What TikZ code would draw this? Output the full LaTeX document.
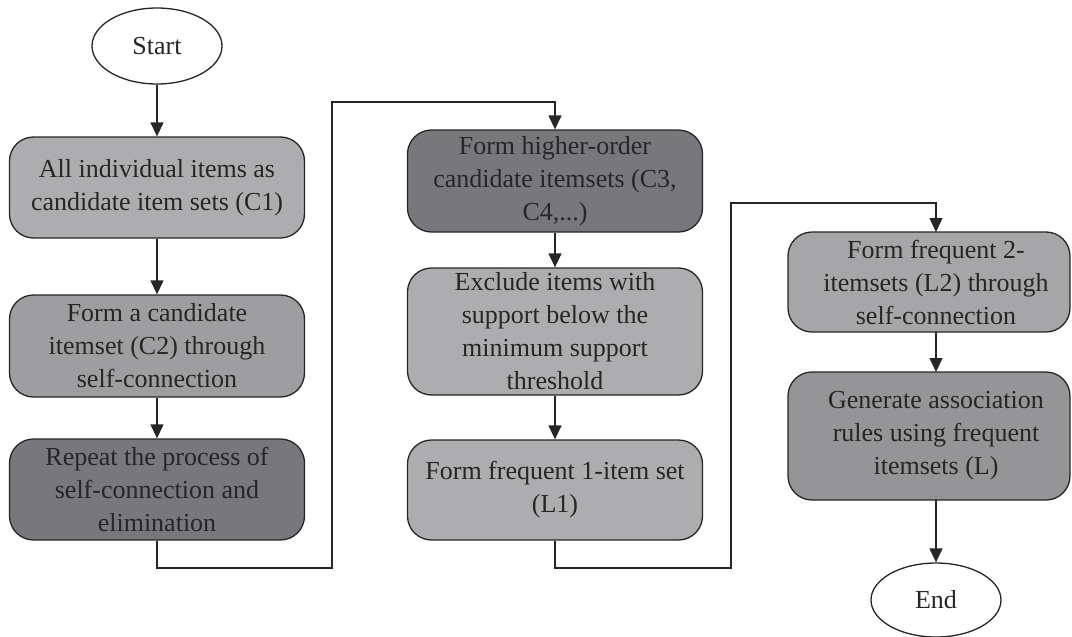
\documentclass[tikz,border=0pt]{standalone}
\usepackage{fontspec}
\setmainfont{Liberation Serif}
\usetikzlibrary{arrows.meta,shapes.geometric}
\definecolor{fLight}{HTML}{ADADB0}
\definecolor{fMid}{HTML}{9E9EA1}
\definecolor{fDark}{HTML}{78787C}
\definecolor{fGen}{HTML}{959598}
\definecolor{fL2}{HTML}{A6A6A9}
\begin{document}
\begin{tikzpicture}[x=1pt,y=-1pt,
  every node/.style={font=\fontsize{26}{33}\selectfont},
  procbox/.style={draw=black!85,line width=1.3pt,rounded corners=24pt,minimum width=295pt,align=center,inner sep=1pt,text=black!85},
  term/.style={draw=black!85,line width=1.3pt,ellipse,fill=white,minimum width=130pt,minimum height=76pt,inner sep=0pt,text=black!85},
  conn/.style={line width=1.3pt,draw=black!85},
  arr/.style={conn,-{Triangle[length=14pt,width=13pt]}}]
\useasboundingbox (0,0) rectangle (1072,637);
\node[term] (start) at (157,46) {Start};
\node[procbox,fill=fLight,minimum height=101pt] (c1) at (157,187.5) {All individual items as\\candidate item sets (C1)};
\node[procbox,fill=fMid,minimum height=102pt] (c2) at (157,346) {Form a candidate\\itemset (C2) through\\self-connection};
\node[procbox,fill=fDark,minimum height=101pt] (rep) at (157,489.5) {Repeat the process of\\self-connection and\\elimination};
\node[procbox,fill=fDark,minimum height=102pt] (hi) at (555,181) {Form higher-order\\candidate itemsets (C3,\\C4,...)};
\node[procbox,fill=fLight,minimum height=127pt] (exc) at (555,331.5) {Exclude items with\\support below the\\minimum support\\threshold};
\node[procbox,fill=fLight,minimum height=100pt] (l1) at (555,490) {Form frequent 1-item set\\(L1)};
\node[procbox,fill=fL2,minimum height=100pt,minimum width=282pt] (l2) at (929,282) {\hspace*{14pt}Form frequent 2-\\\hspace*{14pt}itemsets (L2) through\\\hspace*{14pt}self-connection};
\node[procbox,fill=fGen,minimum height=128pt,minimum width=282pt] (gen) at (929,436) {\hspace*{14pt}Generate association\\\hspace*{14pt}rules using frequent\\\hspace*{14pt}itemsets (L)};
\node[term,minimum height=74pt] (end) at (936,600) {End};
\coordinate (k1) at (157,568);
\coordinate (k2) at (332,568);
\coordinate (k3) at (332,102);
\coordinate (k4) at (555,102);
\coordinate (m1) at (555,568);
\coordinate (m2) at (731,568);
\coordinate (m3) at (731,203);
\coordinate (m4) at (936,203);
\coordinate (l2top) at (936,232);
\coordinate (l2bot) at (936,332);
\coordinate (gentop) at (936,372);
\coordinate (genbot) at (936,500);
\draw[arr] (start) -- (c1);
\draw[arr] (c1) -- (c2);
\draw[arr] (c2) -- (rep);
\draw[arr] (rep.south) -- (k1) -- (k2) -- (k3) -- (k4) -- (hi.north);
\draw[arr] (hi) -- (exc);
\draw[arr] (exc) -- (l1);
\draw[arr] (l1.south) -- (m1) -- (m2) -- (m3) -- (m4) -- (l2top);
\draw[arr] (l2bot) -- (gentop);
\draw[arr] (genbot) -- (end.north);
\end{tikzpicture}
\end{document}
